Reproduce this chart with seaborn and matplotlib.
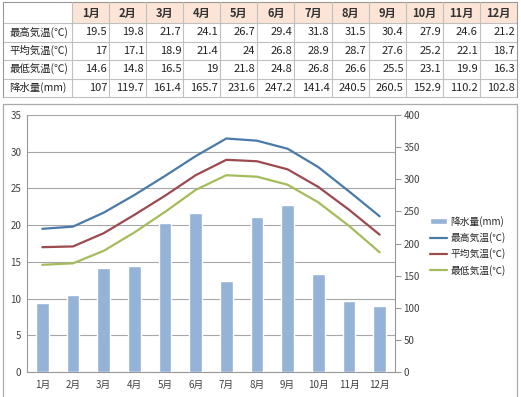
import matplotlib
matplotlib.use("Agg")
import matplotlib.pyplot as plt
import seaborn as sns
import pandas as pd
from matplotlib.patches import Rectangle

months = ['1月', '2月', '3月', '4月', '5月', '6月', '7月', '8月', '9月', '10月', '11月', '12月']
t_max = [19.5, 19.8, 21.7, 24.1, 26.7, 29.4, 31.8, 31.5, 30.4, 27.9, 24.6, 21.2]
t_avg = [17, 17.1, 18.9, 21.4, 24, 26.8, 28.9, 28.7, 27.6, 25.2, 22.1, 18.7]
t_min = [14.6, 14.8, 16.5, 19, 21.8, 24.8, 26.8, 26.6, 25.5, 23.1, 19.9, 16.3]
rain = [107, 119.7, 161.4, 165.7, 231.6, 247.2, 141.4, 240.5, 260.5, 152.9, 110.2, 102.8]

row_names = ['最高気温(℃)', '平均気温(℃)', '最低気温(℃)', '降水量(mm)']
rows = [t_max, t_avg, t_min, rain]

sns.set_style("white")
plt.rcParams['font.family'] = ['Noto Sans CJK JP', 'DejaVu Sans']

W, H = 521, 397
fig = plt.figure(figsize=(W / 100, H / 100), dpi=100)

# ---- table on top (pixel coordinates) ----
tab = fig.add_axes([0, 0, 1, 1])
tab.set_xlim(0, W)
tab.set_ylim(H, 0)
tab.axis('off')

x0, c0, cw = 3, 72, 37.08
y_top, y_head = 2, 23
rh = 18.5
grid_c = '#c0c0c0'

tab.add_patch(Rectangle((c0, y_top), 12 * cw, y_head - y_top, color='#fce4d6', lw=0))
for j, m in enumerate(months):
    cx = c0 + (j + 0.5) * cw
    tab.text(cx, (y_top + y_head) / 2 + 0.5, m, ha='center', va='center',
             fontsize=8, fontweight='bold', color='#333333')
for i, (name, vals) in enumerate(zip(row_names, rows)):
    cy = y_head + (i + 0.5) * rh
    tab.text(x0 + 6, cy, name, ha='left', va='center', fontsize=7.5, color='#222222')
    for j, v in enumerate(vals):
        tab.text(c0 + (j + 1) * cw - 2, cy, f'{v:g}', ha='right', va='center',
                 fontsize=8, color='#222222')

y_bot = y_head + 4 * rh
for k in range(5):
    yy = y_head + k * rh
    tab.plot([x0, x0 + c0 - x0 + 12 * cw], [yy, yy], color=grid_c, lw=0.8)
tab.plot([x0, c0 + 12 * cw], [y_top, y_top], color='#999999', lw=0.8)
tab.plot([x0, x0], [y_top, y_bot], color='#999999', lw=0.8)
for j in range(13):
    xx = c0 + j * cw
    tab.plot([xx, xx], [y_top, y_bot], color=grid_c if j < 12 else '#999999', lw=0.8)

# chart frame
tab.add_patch(Rectangle((3, 104), 514, 300, fill=False, ec='#aaaaaa', lw=0.9))

# ---- chart ----
pl, pr, pt, pb = 27, 395, 115, 372
rect = [pl / W, (H - pb) / H, (pr - pl) / W, (pb - pt) / H]
ax = fig.add_axes(rect)
ax.patch.set_visible(False)
ax2 = ax.twinx()
ax3 = ax.twinx()

df = pd.DataFrame({'month': months, 'rain': rain, 'max': t_max, 'avg': t_avg, 'min': t_min})

sns.barplot(data=df, x='month', y='rain', ax=ax2, color='#95b3d7', saturation=1,
            width=0.42, label='降水量(mm)')
sns.lineplot(data=df, x='month', y='max', ax=ax3, color='#4a7aa8', lw=1.6,
             sort=False, label='最高気温(℃)')
sns.lineplot(data=df, x='month', y='avg', ax=ax3, color='#9c4a4e', lw=1.6,
             sort=False, label='平均気温(℃)')
sns.lineplot(data=df, x='month', y='min', ax=ax3, color='#a4bc5c', lw=1.6,
             sort=False, label='最低気温(℃)')

for a in (ax, ax3):
    a.set_ylim(0, 35)
ax2.set_ylim(0, 400)
ax.set_xlim(-0.5, 11.5)

ax.set_yticks(range(0, 36, 5))
ax.yaxis.grid(True, color='#a6a6a6', lw=0.8)
ax.set_axisbelow(True)
ax2.set_yticks(range(0, 401, 50))
ax3.set_yticks([])
ax3.set_ylabel('')
ax2.set_ylabel('')
ax.set_ylabel('')
ax.set_xlabel('')

ax.set_xticks(range(12))
ax.set_xticklabels(months)
ax.set_xticks([k - 0.5 for k in range(13)], minor=True)
ax.tick_params(axis='x', which='major', length=0, labelsize=7, colors='#404040', pad=6)
ax.tick_params(axis='x', which='minor', length=4, color='#999999')
ax.tick_params(axis='y', length=0, labelsize=7, colors='#404040', pad=4)
ax2.tick_params(axis='y', length=4, labelsize=7, colors='#404040', pad=2, color='#999999')

for a in (ax, ax2, ax3):
    for s in a.spines.values():
        s.set_visible(False)
ax.spines['left'].set_visible(True)
ax.spines['left'].set_color('#999999')
ax.spines['bottom'].set_visible(True)
ax.spines['bottom'].set_color('#999999')
ax2.spines['right'].set_visible(True)
ax2.spines['right'].set_color('#999999')

h2, l2 = ax2.get_legend_handles_labels()
h3, l3 = ax3.get_legend_handles_labels()
for a in (ax2, ax3):
    if a.get_legend():
        a.get_legend().remove()
fig.legend(h2 + h3, l2 + l3, loc='upper left', bbox_to_anchor=(426 / W, 1 - 212 / H),
           frameon=False, fontsize=7, handlelength=1.8, handleheight=0.5,
           labelspacing=0.55, handletextpad=0.3, borderaxespad=0)

fig.savefig('out.png', dpi=100)
